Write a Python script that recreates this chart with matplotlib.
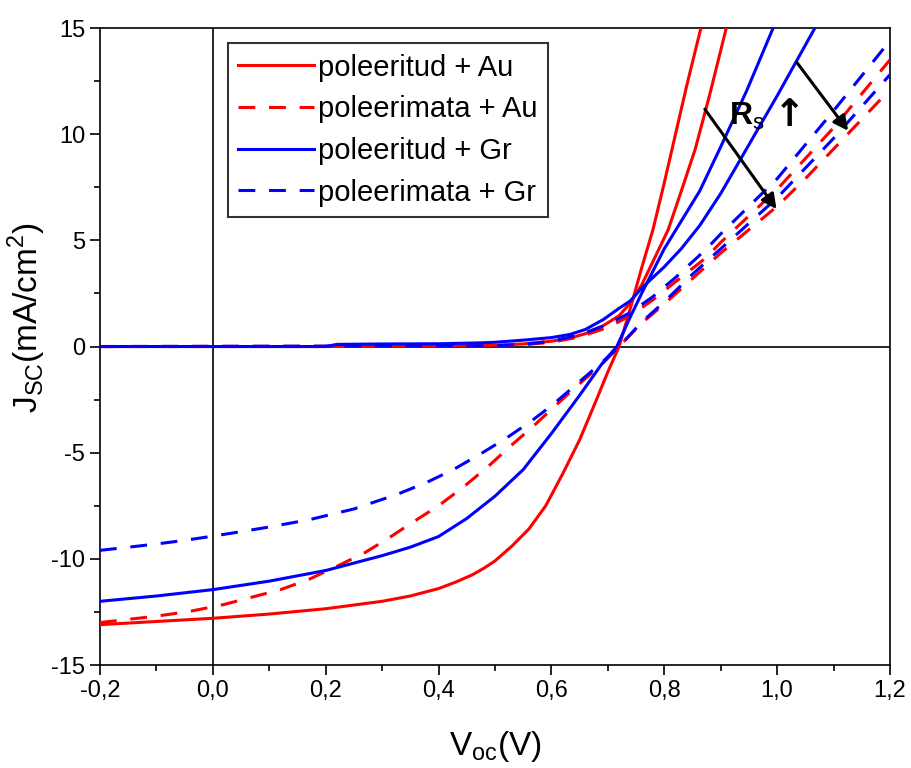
import matplotlib

matplotlib.use("Agg")
import matplotlib.pyplot as plt
from matplotlib import font_manager
from matplotlib.ticker import MultipleLocator, FuncFormatter

# --- data (V in volts, J in mA/cm2) ---
# poleeritud + Au (light / dark)
au_pol_light_v = [-0.2, -0.1, 0.0, 0.1, 0.2, 0.3, 0.35, 0.4, 0.43, 0.46, 0.48, 0.5, 0.53, 0.56,
                  0.59, 0.62, 0.65, 0.68, 0.70, 0.72, 0.74, 0.76, 0.78, 0.80, 0.82, 0.84, 0.865, 0.875]
au_pol_light_j = [-13.1, -12.95, -12.8, -12.6, -12.35, -12.0, -11.75, -11.4, -11.1, -10.75, -10.45,
                  -10.1, -9.4, -8.6, -7.5, -6.0, -4.4, -2.5, -1.2, 0.0, 1.8, 3.7, 5.5, 7.7, 10.0,
                  12.3, 15.0, 16.2]
au_pol_dark_v = [-0.2, 0.2, 0.4, 0.5, 0.55, 0.6, 0.633, 0.66, 0.69, 0.72, 0.74, 0.76, 0.78,
                 0.807, 0.83, 0.855, 0.88, 0.91, 0.92]
au_pol_dark_j = [0.0, 0.0, 0.02, 0.06, 0.12, 0.25, 0.4, 0.6, 0.95, 1.45, 2.05, 2.9, 4.0,
                 5.5, 7.3, 9.3, 11.8, 15.0, 16.0]

# poleerimata + Au (light / dark)
au_unpol_light_v = [-0.2, -0.15, -0.1, -0.04, 0.02, 0.07, 0.12, 0.17, 0.22, 0.27, 0.31, 0.35,
                    0.40, 0.444, 0.49, 0.527, 0.568, 0.603, 0.645, 0.692, 0.72, 0.76, 0.8, 0.85,
                    0.9, 0.95, 1.0, 1.05, 1.1, 1.15, 1.2]
au_unpol_light_j = [-13.0, -12.85, -12.7, -12.47, -12.15, -11.8, -11.45, -10.97, -10.35, -9.7,
                    -9.05, -8.35, -7.5, -6.62, -5.6, -4.7, -3.75, -2.89, -1.87, -0.77, 0.0, 1.1,
                    2.0, 3.2, 4.4, 5.5, 6.6, 7.9, 9.3, 10.7, 12.1]
au_unpol_dark_v = [-0.2, 0.5, 0.55, 0.6, 0.65, 0.7, 0.74, 0.78, 0.82, 0.875, 0.9, 1.0, 1.1, 1.2]
au_unpol_dark_j = [0.0, 0.02, 0.08, 0.2, 0.45, 0.9, 1.45, 2.2, 3.05, 4.2, 4.9, 7.4, 10.3, 13.5]

# poleeritud + Gr (light / dark)
gr_pol_light_v = [-0.2, -0.1, 0.0, 0.1, 0.2, 0.3, 0.35, 0.4, 0.45, 0.5, 0.55, 0.6, 0.65, 0.69,
                  0.716, 0.74, 0.76, 0.8, 0.863, 0.9, 0.946, 0.993, 1.01]
gr_pol_light_j = [-12.0, -11.75, -11.45, -11.05, -10.55, -9.85, -9.45, -8.95, -8.1, -7.05, -5.8,
                  -4.1, -2.3, -0.8, 0.0, 1.4, 2.5, 4.6, 7.33, 9.4, 12.04, 15.0, 16.0]
gr_pol_dark_v = [-0.2, 0.2, 0.22, 0.3, 0.4, 0.47, 0.5, 0.55, 0.6, 0.633, 0.66, 0.692, 0.72,
                 0.74, 0.76, 0.8, 0.83, 0.863, 0.9, 0.95, 1.0, 1.067, 1.08]
gr_pol_dark_j = [0.0, 0.0, 0.1, 0.12, 0.13, 0.17, 0.2, 0.3, 0.42, 0.57, 0.8, 1.27, 1.8,
                 2.15, 2.75, 3.75, 4.6, 5.7, 7.2, 9.5, 11.8, 15.0, 15.6]

# poleerimata + Gr (light / dark)
gr_unpol_light_v = [-0.2, -0.146, -0.1, -0.05, 0.0, 0.05, 0.1, 0.172, 0.25, 0.326, 0.379, 0.426,
                    0.475, 0.521, 0.565, 0.603, 0.651, 0.692, 0.72, 0.76, 0.8, 0.85, 0.9, 0.95,
                    1.0, 1.05, 1.1, 1.15, 1.2]
gr_unpol_light_j = [-9.6, -9.44, -9.3, -9.13, -8.93, -8.72, -8.5, -8.15, -7.65, -6.97, -6.4, -5.8,
                    -5.05, -4.3, -3.5, -2.73, -1.63, -0.69, 0.0, 1.15, 2.1, 3.4, 4.6, 5.8, 7.0,
                    8.4, 9.8, 11.3, 12.8]
gr_unpol_dark_v = [-0.2, 0.5, 0.55, 0.6, 0.65, 0.7, 0.74, 0.78, 0.82, 0.875, 0.9, 1.0, 1.1, 1.2]
gr_unpol_dark_j = [0.0, 0.03, 0.1, 0.25, 0.55, 1.05, 1.6, 2.35, 3.25, 4.6, 5.3, 7.9, 11.1, 14.4]

labels = ["poleeritud + Au", "poleerimata + Au", "poleeritud + Gr", "poleerimata + Gr"]

# arrows marking the series resistance shift (tail -> head)
arrow_tails = [(0.872, 11.18), (1.035, 13.38)]
arrow_heads = [(0.999, 6.47), (1.126, 10.16)]


def _pick_font(names):
    available = {f.name for f in font_manager.fontManager.ttflist}
    for name in names:
        if name in available:
            return name
    return "DejaVu Sans"


regular = _pick_font(["Liberation Sans", "Arial"])

plt.rcParams["font.family"] = [regular, "DejaVu Sans"]
plt.rcParams["mathtext.fontset"] = "custom"
plt.rcParams["mathtext.rm"] = regular
plt.rcParams["mathtext.bf"] = regular + ":bold"
plt.rcParams["axes.unicode_minus"] = False

fig = plt.figure(figsize=(9.12, 7.68), dpi=100)
ax = fig.add_axes([0.1096, 0.1341, 0.8662, 0.8294])

ax.axhline(0, color="black", lw=1.2, zorder=1)
ax.axvline(0, color="black", lw=1.2, zorder=1)

RED = "#FF0000"
BLUE = "#0000FF"
LW = 2.2
DASH = (5.5, 4.5)

series = [
    (au_pol_light_v, au_pol_light_j, RED, "-"),
    (au_pol_dark_v, au_pol_dark_j, RED, "-"),
    (au_unpol_light_v, au_unpol_light_j, RED, "--"),
    (au_unpol_dark_v, au_unpol_dark_j, RED, "--"),
    (gr_pol_light_v, gr_pol_light_j, BLUE, "-"),
    (gr_pol_dark_v, gr_pol_dark_j, BLUE, "-"),
    (gr_unpol_light_v, gr_unpol_light_j, BLUE, "--"),
    (gr_unpol_dark_v, gr_unpol_dark_j, BLUE, "--"),
]
handles = {}
for v, j, color, ls in series:
    line, = ax.plot(v, j, color=color, lw=LW, zorder=3)
    if ls == "--":
        line.set_dashes(DASH)
    handles.setdefault((color, ls), line)

legend_handles = [handles[(RED, "-")], handles[(RED, "--")],
                  handles[(BLUE, "-")], handles[(BLUE, "--")]]
leg = ax.legend(legend_handles, labels, loc="upper left", bbox_to_anchor=(0.162, 0.976),
                fontsize=21, frameon=True, fancybox=False, edgecolor="black",
                handlelength=2.6, handletextpad=0.15, labelspacing=0.47,
                borderpad=0.35, borderaxespad=0.0)
leg.get_frame().set_linewidth(1.5)

for tail, head in zip(arrow_tails, arrow_heads):
    ax.annotate("", xy=head, xytext=tail,
                arrowprops=dict(arrowstyle="-|>", color="black", lw=2.2,
                                mutation_scale=22, shrinkA=0, shrinkB=0),
                zorder=5)

ax.text(0.915, 10.46, r"$\mathbf{R}_{\mathrm{s}}$", fontsize=23,
        ha="left", va="baseline", zorder=6)
ax.text(0.995, 10.4, "\u2191", fontsize=27, fontweight="bold",
        family="DejaVu Sans", ha="left", va="baseline", zorder=6)

ax.set_xlim(-0.2, 1.2)
ax.set_ylim(-15, 15)
ax.xaxis.set_major_locator(MultipleLocator(0.2))
ax.xaxis.set_minor_locator(MultipleLocator(0.1))
ax.yaxis.set_major_locator(MultipleLocator(5))
ax.yaxis.set_minor_locator(MultipleLocator(2.5))
ax.xaxis.set_major_formatter(FuncFormatter(lambda x, pos: f"{x:.1f}".replace(".", ",").replace("-0,0", "0,0")))
ax.yaxis.set_major_formatter(FuncFormatter(lambda y, pos: f"{y:.0f}"))

ax.tick_params(which="both", direction="out", width=1.2, top=False, right=False)
ax.tick_params(which="major", length=7)
ax.tick_params(which="minor", length=4)
for label in ax.get_xticklabels() + ax.get_yticklabels():
    label.set_fontsize(17)
for spine in ax.spines.values():
    spine.set_linewidth(1.2)

ax.set_xlabel(r"V$_{\mathrm{oc}}$(V)", fontsize=24)
ax.set_ylabel(r"J$_{\mathrm{SC}}$(mA/cm$^{2}$)", fontsize=24)
ax.xaxis.set_label_coords(0.5, -0.1)
ax.yaxis.set_label_coords(-0.066, 0.545)

fig.savefig("out.png", dpi=100)
plt.close(fig)
